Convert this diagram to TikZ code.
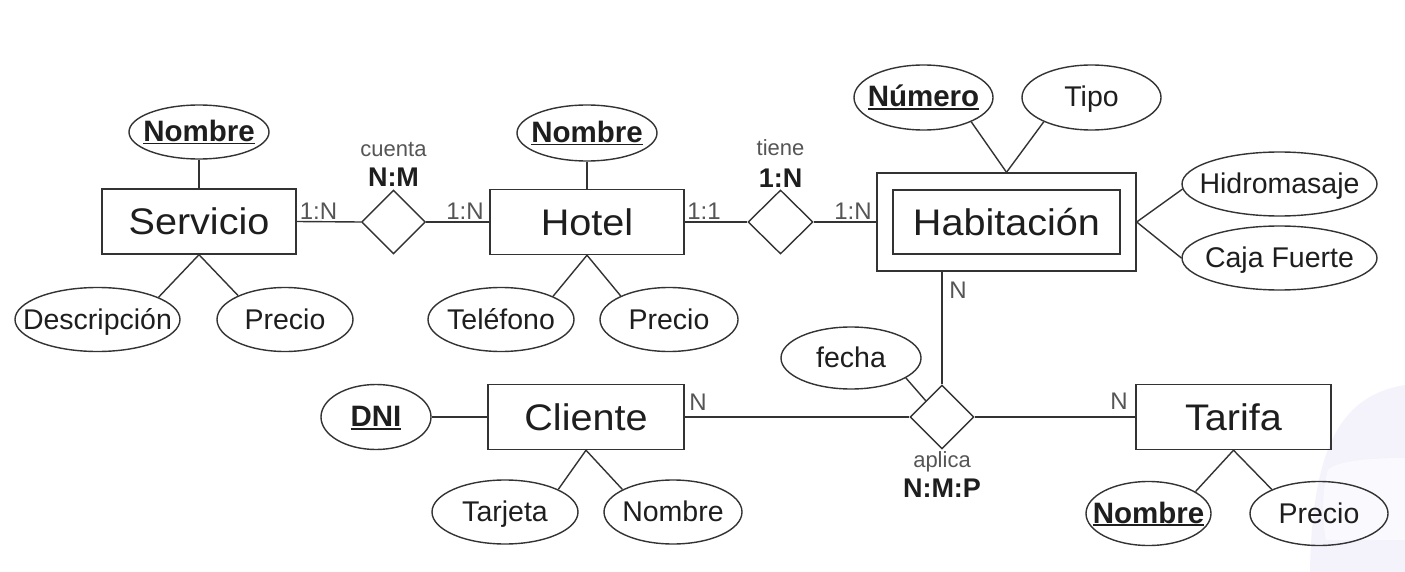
\documentclass[tikz,border=0pt]{standalone}
\usepackage{fontspec}
\setmainfont{Liberation Sans}
\newfontfamily\entfont[FakeStretch=1.07]{Liberation Sans}
\usetikzlibrary{shapes.geometric}
\definecolor{ln}{HTML}{333333}
\definecolor{tx}{HTML}{1E1E1E}
\definecolor{lb}{HTML}{555555}
\definecolor{wm}{HTML}{F4F3FC}
\definecolor{wmb}{HTML}{FAFAFE}
\newcommand\keyu[1]{\setbox0\hbox{#1}\rlap{\rule[-3pt]{\wd0}{1.6pt}}\box0}
\begin{document}
\begin{tikzpicture}[x=1pt,y=-1pt,line width=1.4pt,
  ent/.style={draw=ln,rectangle,inner sep=0pt,minimum width=#1,minimum height=65pt,
    font=\entfont\fontsize{37}{44}\selectfont,text=tx,text height=33pt,text depth=7pt},
  ent/.default=194pt,
  attr/.style={draw=ln,ellipse,inner ysep=0pt,inner xsep=-40pt,minimum width=#1,minimum height=64pt,
    font=\fontsize{28.5}{33}\selectfont,text=tx,text height=25pt,text depth=6pt},
  keyattr/.style={attr=#1,font=\fontsize{29.5}{34}\selectfont\bfseries},
  rel/.style={draw=ln,diamond,inner sep=0pt,minimum width=64pt,minimum height=64pt},
  card/.style={font=\fontsize{24}{28}\selectfont,text=lb,anchor=base,inner sep=0pt},
  rname/.style={font=\fontsize{22}{26}\selectfont,text=lb,anchor=base,inner sep=0pt},
  rcard/.style={font=\fontsize{27}{32}\selectfont\bfseries,text=tx,anchor=base,inner sep=0pt},
  conn/.style={draw=ln,line width=1.4pt}]
\useasboundingbox (0,0) rectangle (1405,572);
\fill[white] (0,0) rectangle (1405,572);
% faint watermark
\fill[wm] (1405,385) .. controls (1345,395) and (1312,440) .. (1310,572) -- (1405,572) -- cycle;
\fill[wmb] (1405,458) .. controls (1365,458) and (1335,462) .. (1328,470) .. controls (1322,490) and (1322,520) .. (1326,540) -- (1405,540) -- cycle;

% Servicio
\node[ent] (serv) at (199,221.5) {Servicio};
\node[keyattr=140pt,minimum height=54pt] (sNom) at (199,132) {\keyu{Nombre}};
\node[attr=165pt] (sDesc) at (97.5,319.5) {Descripción};
\node[attr=136pt] (sPre) at (285,319.5) {Precio};
\draw[conn] (sNom.south) -- (serv.north);
\draw[conn] (serv.south) -- (sDesc.20);
\draw[conn] (serv.south) -- (sPre.153);

% cuenta
\node[rel] (cuenta) at (393.5,222) {};
\node[rname] (cuentaT) at (393.5,157) {cuenta};
\node[rcard] (cuentaC) at (393.5,187) {N:M};

% Hotel
\node[ent] (hotel) at (587,222) {Hotel};
\node[keyattr=140pt,minimum height=56pt] (hNom) at (587,133) {\keyu{Nombre}};
\node[attr=146pt] (hTel) at (501,319.5) {Teléfono};
\node[attr=138pt] (hPre) at (669,319.5) {Precio};
\draw[conn] (hNom.south) -- (hotel.north);
\draw[conn] (hotel.south) -- (hTel.24);
\draw[conn] (hotel.south) -- (hPre.154);

\draw[conn] (serv.east) -- (cuenta.west);
\draw[conn] (cuenta.east) -- (hotel.west);
\node[card] (c1) at (318.5,219) {1:N};
\node[card] (c2) at (465,219) {1:N};

% tiene
\node[rel,minimum width=65pt] (tiene) at (780.5,222) {};
\node[rname] (tieneT) at (780.5,156) {tiene};
\node[rcard] (tieneC) at (780.5,188) {1:N};
\draw[conn] (hotel.east) -- (tiene.west);
\node[card] (c3) at (704,219) {1:1};

% Habitacion
\node[draw=ln,rectangle,inner sep=0pt,minimum width=259pt,minimum height=98pt] (habOut) at (1006.5,222) {};
\node[ent=227pt,minimum height=64pt] (hab) at (1006.5,222) {Habitación};
\node[keyattr=139pt,minimum height=65pt] (hNum) at (923.5,97.5) {\keyu{Número}};
\node[attr=139pt,minimum height=65pt] (hTipo) at (1091.5,97.5) {Tipo};
\node[attr=195pt] (hHid) at (1279.5,184) {Hidromasaje};
\node[attr=195pt] (hCaja) at (1279.5,258) {Caja Fuerte};
\draw[conn] (habOut.north) -- (hNum.-27);
\draw[conn] (habOut.north) -- (hTipo.-153);
\draw[conn] (habOut.east) -- (hHid.183);
\draw[conn] (habOut.east) -- (hCaja.west);
\draw[conn] (tiene.east) -- (habOut.west);
\node[card] (c4) at (853,219) {1:N};

% aplica
\node[rel] (aplica) at (942,417) {};
\node[rname] (aplicaT) at (942,467) {aplica};
\node[rcard] (aplicaC) at (942,497) {N:M:P};
\node[attr=140pt,minimum height=62pt] (fecha) at (851,358) {fecha};
\draw[conn] (fecha.-20) -- (aplica.135);
\draw[conn] (aplica.north) -- (aplica.north |- habOut.south);
\node[card] (c5) at (958,298) {N};

% Cliente
\node[ent=196pt] (cli) at (586,417) {Cliente};
\node[keyattr=110pt,minimum height=65pt] (dni) at (376,417) {\keyu{DNI}};
\node[attr=146pt] (cTar) at (505,512) {Tarjeta};
\node[attr=138pt] (cNom) at (673,512) {Nombre};
\draw[conn] (dni.east) -- (cli.west);
\draw[conn] (cli.south) -- (cTar.23);
\draw[conn] (cli.south) -- (cNom.156);
\draw[conn] (cli.east) -- (aplica.west);
\node[card] (c6) at (698,410) {N};

% Tarifa
\node[ent=195pt] (tar) at (1233.5,417) {Tarifa};
\node[keyattr=125pt] (tNom) at (1148.5,513.5) {\keyu{Nombre}};
\node[attr=138pt] (tPre) at (1319,513.5) {Precio};
\draw[conn] (tar.south) -- (tNom.25);
\draw[conn] (tar.south) -- (tPre.153);
\draw[conn] (aplica.east) -- (tar.west);
\node[card] (c7) at (1119,409) {N};
\end{tikzpicture}
\end{document}
